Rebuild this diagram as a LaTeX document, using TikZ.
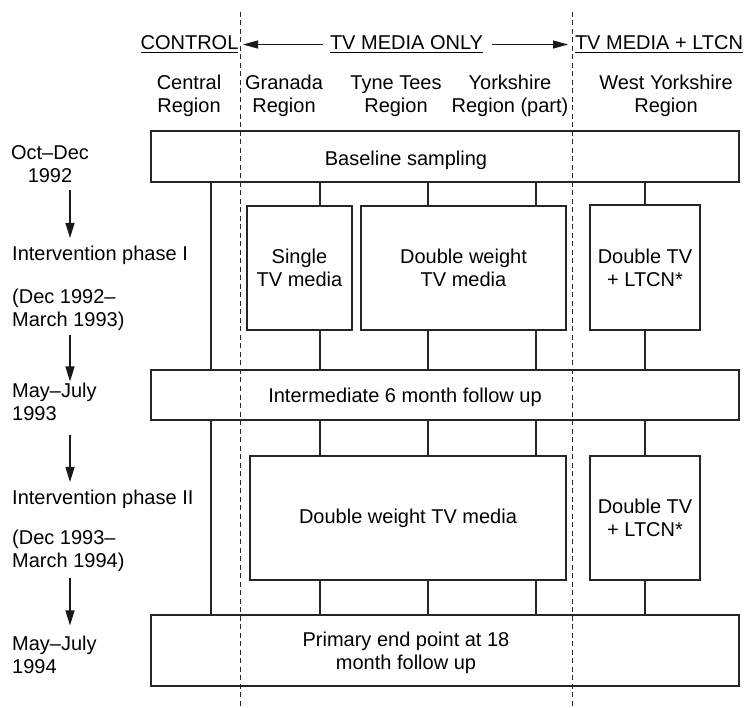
\documentclass[tikz,border=0pt]{standalone}
\usepackage{fontspec}
\setmainfont{Liberation Sans}
\usetikzlibrary{arrows.meta}
\newcommand\ulinetext[1]{\setbox0\hbox{#1}\leavevmode\rlap{\copy0}\rule[-3pt]{\wd0}{1.3pt}}
\begin{document}
\begin{tikzpicture}[x=1pt,y=-1pt,
  every node/.style={font=\fontsize{20}{23}\selectfont, inner sep=0pt, text=black},
  box/.style={draw=black!85, line width=1.2pt, align=center},
  link/.style={draw=black!85, line width=1.2pt},
  sep/.style={draw=black!85, line width=1pt, dash pattern=on 5pt off 3.5pt},
  harr/.style={draw=black!90, line width=1.2pt, -{Triangle[length=15pt,width=8pt]}},
  varr/.style={draw=black!90, line width=1.2pt, -{Triangle[length=15pt,width=9pt]}},
  lab/.style={align=left, anchor=west},
  hd/.style={anchor=base}]
\useasboundingbox (0,0) rectangle (744,708);

% separators
\coordinate (d1t) at (240,12); \coordinate (d1b) at (240,708);
\coordinate (d2t) at (572,12); \coordinate (d2b) at (572,708);
\draw[sep] (d1t) -- (d1b);
\draw[sep] (d2t) -- (d2b);

% header
\node[hd] (ctrl) at (189.5,50) {\ulinetext{CONTROL}};
\node[hd] (tvonly) at (406.5,50) {\ulinetext{TV MEDIA ONLY}};
\node[hd] (tvltcn) at (659,50) {\ulinetext{TV MEDIA + LTCN}};
\draw[harr, shorten <=7pt, shorten >=3pt] (tvonly.west) -- (tvonly.west -| d1t);
\draw[harr, shorten <=9pt, shorten >=4pt] (tvonly.east) -- (tvonly.east -| d2t);

% regions
\node[align=center] (rC) at (189,96) {Central\\Region};
\node[align=center] (rG) at (284,96) {Granada\\Region};
\node[align=center] (rT) at (396,96) {Tyne Tees\\Region};
\node[align=center] (rY) at (510,96) {Yorkshire\\Region (part)};
\node[align=center] (rW) at (666,96) {West Yorkshire\\Region};

% left time column
\coordinate (ax) at (70,0);
\node[align=center] (t0) at (50,164.5) {Oct–Dec\\1992};
\node[lab] (t1) at (12,255) {Intervention phase I};
\node[lab] (t1d) at (12,309.5) {(Dec 1992–\\March 1993)};
\node[lab] (t2) at (12,401.5) {May–July\\1993};
\node[lab] (t3) at (12,499) {Intervention phase II};
\node[lab] (t3d) at (12,550.5) {(Dec 1993–\\March 1994)};
\node[lab] (t4) at (12,654.5) {May–July\\1994};
\draw[varr, shorten <=6.5pt, shorten >=7.5pt] (t0.south -| ax) -- (t1.north -| ax);
\draw[varr, shorten <=4.5pt, shorten >=1pt] (t1d.south -| ax) -- (t2.north -| ax);
\draw[varr, shorten <=14pt, shorten >=7.5pt] (t2.south -| ax) -- (t3.north -| ax);
\draw[varr, shorten <=6pt, shorten >=10pt] (t3d.south -| ax) -- (t4.north -| ax);

% boxes
\node[box, minimum width=588pt, minimum height=51pt] (base) at (445,156.5) {};
\node (baset) at (406,160.5) {Baseline sampling};
\node[box, minimum width=105pt, minimum height=124pt] (single) at (299.5,268) {Single\\TV media};
\node[box, minimum width=205pt, minimum height=124pt] (dbl1) at (463.5,268) {Double weight\\TV media};
\node[box, minimum width=110pt, minimum height=125pt] (wy1) at (645,267.5) {Double TV\\+ LTCN*};
\node[box, minimum width=588pt, minimum height=50pt] (inter) at (445,395) {};
\node (intert) at (405,397.5) {Intermediate 6 month follow up};
\node[box, minimum width=316pt, minimum height=124pt] (dbl2) at (408,518) {Double weight TV media};
\node[box, minimum width=110pt, minimum height=124pt] (wy2) at (645,518) {Double TV\\+ LTCN*};
\node[box, minimum width=588pt, minimum height=71pt] (final) at (445,650.5) {};
\node[align=center] (finalt) at (406,653) {Primary end point at 18\\month follow up};

% connectors
\coordinate (cC) at (211,0);
\coordinate (cG) at (320,0);
\coordinate (cT) at (428,0);
\coordinate (cY) at (536,0);
\coordinate (cW) at (645,0);
\draw[link] (base.south -| cC) -- (inter.north -| cC);
\draw[link] (inter.south -| cC) -- (final.north -| cC);
\foreach \c/\b in {cG/single, cT/dbl1, cY/dbl1, cW/wy1} {
  \draw[link] (base.south -| \c) -- (\b.north -| \c);
  \draw[link] (\b.south -| \c) -- (inter.north -| \c);
}
\foreach \c/\b in {cG/dbl2, cT/dbl2, cY/dbl2, cW/wy2} {
  \draw[link] (inter.south -| \c) -- (\b.north -| \c);
  \draw[link] (\b.south -| \c) -- (final.north -| \c);
}
\end{tikzpicture}
\end{document}
